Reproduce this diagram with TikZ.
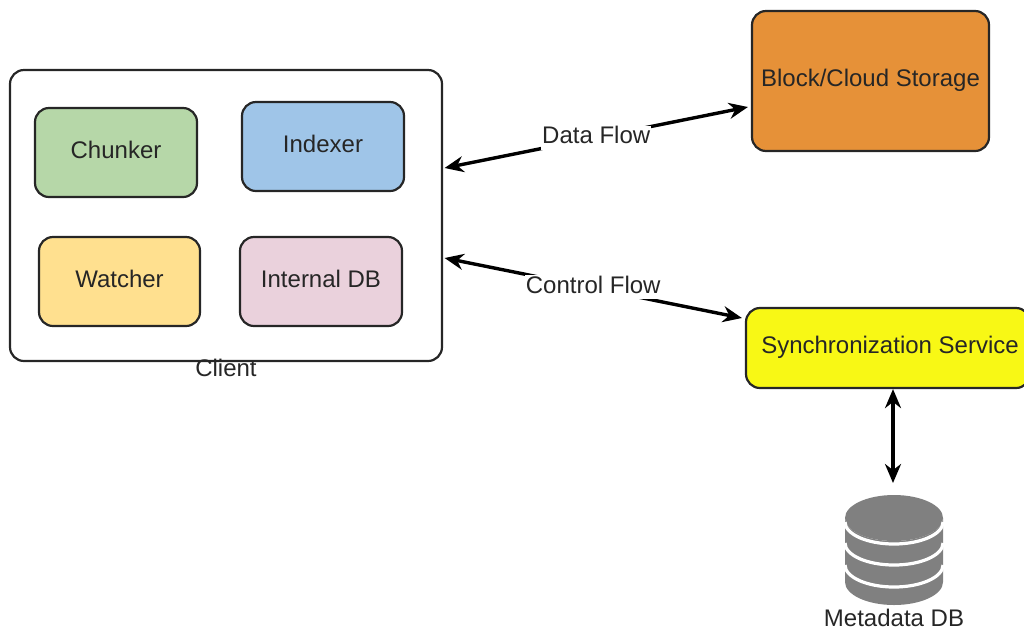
\documentclass[tikz,border=0pt]{standalone}
\usepackage{fontspec}
\setmainfont{Liberation Sans}
\usetikzlibrary{arrows.meta}
\definecolor{chunkergreen}{HTML}{B6D7A8}
\definecolor{indexerblue}{HTML}{9FC5E8}
\definecolor{watcheryellow}{HTML}{FFE08F}
\definecolor{dbpink}{HTML}{EAD1DC}
\definecolor{storageorange}{HTML}{E69138}
\definecolor{syncyellow}{HTML}{F8F815}
\definecolor{cylgray}{HTML}{808080}
\begin{document}
\begin{tikzpicture}[x=1pt, y=-1pt,
    box/.style={draw=black!85, line width=2.2pt, rounded corners=14pt, inner sep=0pt, font=\fontsize{24}{26}\selectfont, text=black!85, text height=17pt, text depth=6pt},
    lbl/.style={font=\fontsize{24}{26}\selectfont, text=black!85, inner sep=1pt, text height=17pt, text depth=5pt},
    flow/.style={line width=3.4pt, {Stealth[length=19pt,width=16pt]}-{Stealth[length=19pt,width=16pt]}}]
      \clip (0, 0) rectangle (1024, 633);
      \node (client) [box, minimum width=432pt, minimum height=291pt] at (226, 215.5) {};
      \node (chunker) [box, fill=chunkergreen, minimum width=162pt, minimum height=89pt] at (116, 152.5) {Chunker};
      \node (indexer) [box, fill=indexerblue, minimum width=162pt, minimum height=89pt] at (323, 146.5) {Indexer};
      \node (watcher) [box, fill=watcheryellow, minimum width=161pt, minimum height=89pt] at (119.5, 281.5) {Watcher};
      \node (internaldb) [box, fill=dbpink, minimum width=162pt, minimum height=89pt] at (321, 281.5) {Internal DB};
      \node (clientlabel) [lbl] at (226, 370) {Client};
      \node (storage) [box, fill=storageorange, minimum width=237pt, minimum height=140pt] at (870.5, 81) {Block/Cloud Storage};
      \node (sync) [box, fill=syncyellow, minimum width=284pt, minimum height=80pt] at (888, 348) {\hspace*{4pt}Synchronization Service};
      % database icon
      \fill [cylgray] (845, 518) arc (180:360:49 and -23) -- (943, 582) arc (0:-180:49 and -23) -- cycle;
      \fill [cylgray] (894, 518) ellipse (49 and 23);
      \draw [white, line width=3.2pt] (845, 522) arc (180:360:49 and -22)
                                      (845, 543) arc (180:360:49 and -22)
                                      (845, 565) arc (180:360:49 and -22);
      \coordinate (metatop) at (893, 483);
      \node (metalabel) [lbl, text depth=0pt] at (894, 618) {Metadata DB};
      \draw [flow] ([yshift=47.5pt]client.east) ++(1.5, 0) coordinate (dataend) -- ([yshift=-26pt, xshift=-3pt]storage.west)
            node (dataflow) [lbl, fill=white, pos=.5] {Data Flow};
      \draw [flow] ([yshift=-42.5pt]client.east) ++(1.5, 0) coordinate (ctrlend) -- ([yshift=30pt, xshift=-3pt]sync.west)
            node (controlflow) [lbl, fill=white, pos=.5, yshift=1pt] {Control Flow};
      \draw [flow] ([xshift=5pt]sync.south) -- (metatop);
\end{tikzpicture}
\end{document}
